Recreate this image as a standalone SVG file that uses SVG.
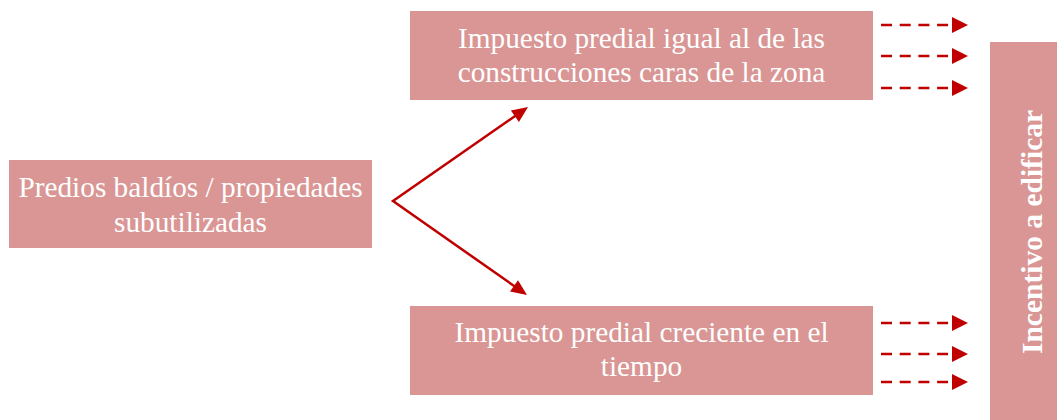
<svg xmlns="http://www.w3.org/2000/svg" width="1057" height="420" viewBox="0 0 1057 420">
<style>
.box{fill:#D99694}
.t{font-family:"Liberation Serif","Times New Roman",serif;font-size:29.3px;fill:#FFFFFF;text-anchor:middle}
.tb{font-family:"Liberation Serif","Times New Roman",serif;font-size:29.5px;font-weight:bold;fill:#FFFFFF;text-anchor:middle}
.c{stroke:#C00000;stroke-width:2.5;fill:none}
.d{stroke:#C00000;stroke-width:2.3;fill:none;stroke-dasharray:11 7.7}
</style>
<defs>
<marker id="ah2" markerWidth="16" markerHeight="16" refX="0" refY="8" orient="auto" markerUnits="userSpaceOnUse" viewBox="0 0 16 16">
<path d="M0,0 L16,8 L0,16 z" fill="#C00000"/>
</marker>
</defs>
<g id="node-predios">
<rect class="box" x="9" y="160" width="363" height="88"/>
<text class="t" x="190.5" y="197">Predios baldíos / propiedades</text>
<text class="t" x="190.5" y="232">subutilizadas</text>
</g>
<g id="node-igual">
<rect class="box" x="410" y="11" width="463" height="89"/>
<text class="t" x="641.5" y="48">Impuesto predial igual al de las</text>
<text class="t" x="641.5" y="82">construcciones caras de la zona</text>
</g>
<g id="node-creciente">
<rect class="box" x="410" y="306" width="463" height="89"/>
<text class="t" x="641.5" y="342">Impuesto predial creciente en el</text>
<text class="t" x="641.5" y="376">tiempo</text>
</g>
<g id="node-incentivo">
<rect class="box" x="990" y="42" width="67" height="378"/>
<text class="tb" transform="translate(1042,232) rotate(-90)">Incentivo a edificar</text>
</g>
<g id="connectors">
<path class="c" d="M518,114 L393,201 L517,288"/>
<path d="M528,107 L518.9,121.9 L510.9,110.4 Z" fill="#C00000"/>
<path d="M527,295 L510,291.5 L518,280.2 Z" fill="#C00000"/>
<g>
<line class="d" x1="881" y1="25" x2="952" y2="25" marker-end="url(#ah2)"/>
<line class="d" x1="881" y1="56" x2="952" y2="56" marker-end="url(#ah2)"/>
<line class="d" x1="881" y1="88" x2="952" y2="88" marker-end="url(#ah2)"/>
<line class="d" x1="881" y1="323" x2="952" y2="323" marker-end="url(#ah2)"/>
<line class="d" x1="881" y1="354" x2="952" y2="354" marker-end="url(#ah2)"/>
<line class="d" x1="881" y1="382" x2="952" y2="382" marker-end="url(#ah2)"/>
</g>
</g>
</svg>
